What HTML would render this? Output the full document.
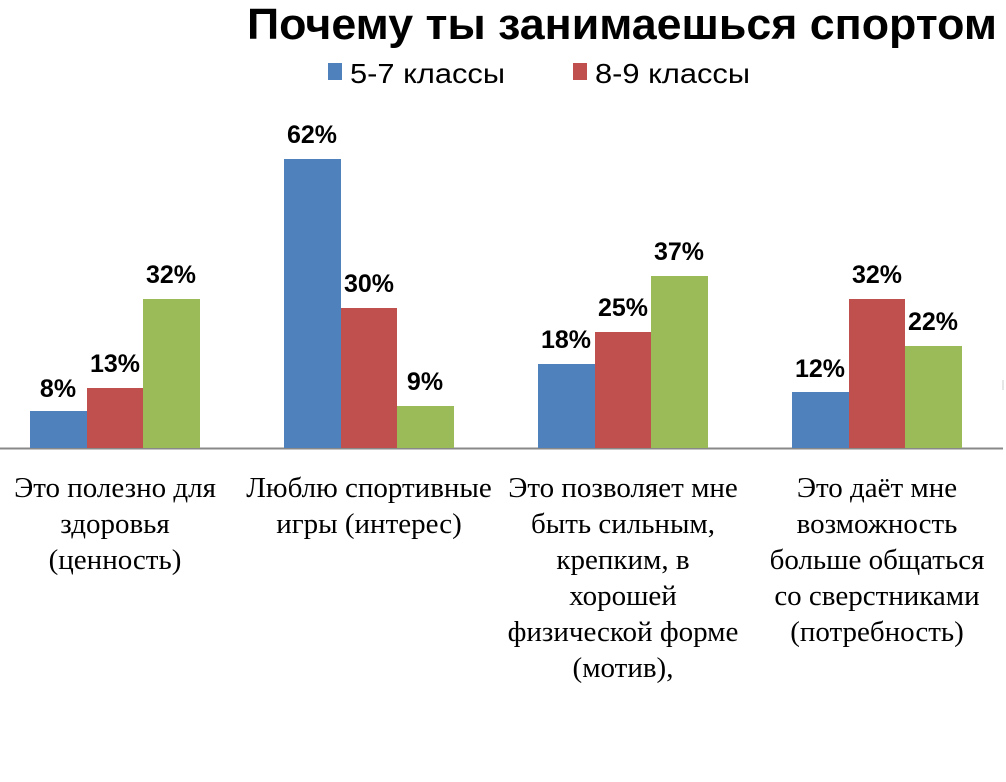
<html><body style="margin:0;background:#fff">
<svg width="1006" height="782" xmlns="http://www.w3.org/2000/svg" style="display:block">
<g font-family="Liberation Sans, sans-serif">
<text x="997" y="39" text-anchor="end" font-size="44" font-weight="bold" textLength="750" lengthAdjust="spacingAndGlyphs">Почему ты занимаешься спортом</text>
<rect x="328" y="63" width="14" height="17" fill="#4f81bd"/>
<text x="350" y="83" font-size="28" textLength="155" lengthAdjust="spacingAndGlyphs">5-7 классы</text>
<rect x="573" y="63" width="14" height="17" fill="#c0504d"/>
<text x="595" y="83" font-size="28" textLength="155" lengthAdjust="spacingAndGlyphs">8-9 классы</text>
</g>
<line x1="0" y1="448.5" x2="1003" y2="448.5" stroke="#888" stroke-width="2"/>
<line x1="1003" y1="380" x2="1003" y2="390" stroke="#ccc"/>
<g>
<rect x="30" y="411" width="57" height="37" fill="#4f81bd"/>
<rect x="87" y="388" width="56" height="60" fill="#c0504d"/>
<rect x="143" y="299" width="57" height="149" fill="#9bbb59"/>
<rect x="284" y="159" width="57" height="289" fill="#4f81bd"/>
<rect x="341" y="308" width="56" height="140" fill="#c0504d"/>
<rect x="397" y="406" width="57" height="42" fill="#9bbb59"/>
<rect x="538" y="364" width="57" height="84" fill="#4f81bd"/>
<rect x="595" y="332" width="56" height="116" fill="#c0504d"/>
<rect x="651" y="276" width="57" height="172" fill="#9bbb59"/>
<rect x="792" y="392" width="57" height="56" fill="#4f81bd"/>
<rect x="849" y="299" width="56" height="149" fill="#c0504d"/>
<rect x="905" y="346" width="57" height="102" fill="#9bbb59"/>
</g>
<g font-family="Liberation Sans, sans-serif" font-weight="bold" font-size="25" text-anchor="middle">
<text x="58" y="397">8%</text>
<text x="115" y="372">13%</text>
<text x="171" y="283">32%</text>
<text x="312" y="143">62%</text>
<text x="369" y="292">30%</text>
<text x="425" y="390">9%</text>
<text x="566" y="348">18%</text>
<text x="623" y="316">25%</text>
<text x="679" y="260">37%</text>
<text x="820" y="377">12%</text>
<text x="877" y="283">32%</text>
<text x="933" y="330">22%</text>
</g>
<g font-family="Liberation Serif, serif" font-size="29" text-anchor="middle">
<text x="115" y="497">Это полезно для</text>
<text x="115" y="533">здоровья</text>
<text x="115" y="569">(ценность)</text>
<text x="369" y="497">Люблю спортивные</text>
<text x="369" y="533">игры (интерес)</text>
<text x="623" y="497">Это позволяет мне</text>
<text x="623" y="533">быть сильным,</text>
<text x="623" y="569">крепким, в</text>
<text x="623" y="605">хорошей</text>
<text x="623" y="641">физической форме</text>
<text x="623" y="677">(мотив),</text>
<text x="877" y="497">Это даёт мне</text>
<text x="877" y="533">возможность</text>
<text x="877" y="569">больше общаться</text>
<text x="877" y="605">со сверстниками</text>
<text x="877" y="641">(потребность)</text>
</g>
</svg>
</body></html>
